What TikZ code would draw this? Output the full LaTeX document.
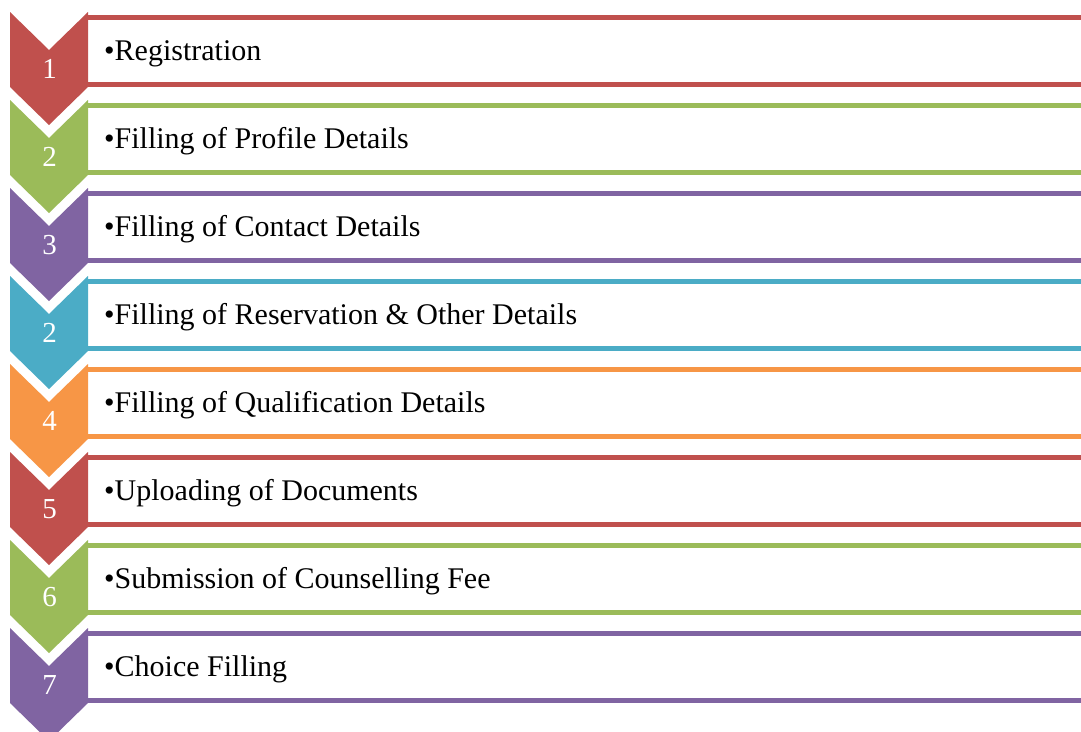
\documentclass[tikz,border=0pt]{standalone}
\usepackage{fontspec}
\setmainfont{Liberation Serif}

\definecolor{stepred}{HTML}{C0504D}
\definecolor{stepgreen}{HTML}{9BBB59}
\definecolor{steppurple}{HTML}{8064A2}
\definecolor{stepcyan}{HTML}{4BACC6}
\definecolor{steporange}{HTML}{F79646}

\tikzset{
    itemline/.style={line width=5pt},
    numlabel/.style={white,anchor=base,inner sep=0pt,font=\fontsize{29}{32}\selectfont},
    itemlabel/.style={black,anchor=base west,inner sep=0pt,font=\fontsize{30}{36}\selectfont}
}

\begin{document}
\begin{tikzpicture}[x=1pt,y=-1pt]

    \useasboundingbox (0,0) rectangle (1081,731);
    \clip (0,0) rectangle (1081,731);

    \foreach \i/\n/\c/\t in {0/1/stepred/Registration,
                             1/2/stepgreen/Filling of Profile Details,
                             2/3/steppurple/Filling of Contact Details,
                             3/2/stepcyan/Filling of Reservation \& Other Details,
                             4/4/steporange/Filling of Qualification Details,
                             5/5/stepred/Uploading of Documents,
                             6/6/stepgreen/Submission of Counselling Fee,
                             7/7/steppurple/Choice Filling} {
        \pgfmathsetmacro\ytop{12+88*\i}
        % item box: only top and bottom edges show
        \draw[itemline,\c] (88,\ytop+5.5) -- (1100,\ytop+5.5);
        \draw[itemline,\c] (88,\ytop+72.5) -- (1100,\ytop+72.5);
        \fill[\c] (10,\ytop) -- (49,\ytop+38) -- (88,\ytop) -- (88,\ytop+75)
            -- (49,\ytop+113) -- (10,\ytop+75) -- cycle;
        \node[numlabel] (num\i) at (49.5,\ytop+66) {\n};
        \node[itemlabel] (item\i) at (104,\ytop+48.5) {\textbullet\t};
    }

\end{tikzpicture}
\end{document}
